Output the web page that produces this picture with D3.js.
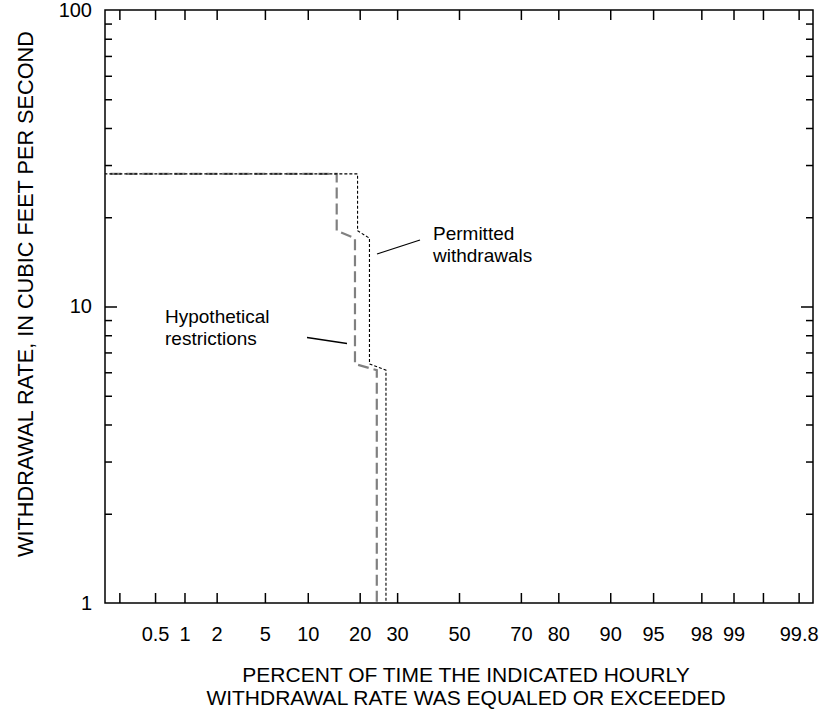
<!DOCTYPE html>
<html>
<head>
<meta charset="utf-8">
<script src="https://cdn.jsdelivr.net/npm/d3@7"></script>
<style>
  html, body { margin: 0; padding: 0; background: #fff; }
  svg { display: block; font-family: "Liberation Sans", Arial, Helvetica, sans-serif; }
</style>
</head>
<body>
<svg id="chart" width="830" height="712"></svg>
<script>
// ---------- data ----------
const xTickValues = [0.2, 0.5, 1, 2, 5, 10, 20, 30, 50, 70, 80, 90, 95, 98, 99, 99.5, 99.8];
const xTickLabels = ["", "0.5", "1", "2", "5", "10", "20", "30", "50", "70", "80", "90", "95", "98", "99", "", "99.8"];
const yTickValues = [1, 2, 3, 4, 5, 6, 7, 8, 9, 10, 20, 30, 40, 50, 60, 70, 80, 90, 100];
const yTickLabels = ["1", "", "", "", "", "", "", "", "", "10", "", "", "", "", "", "", "", "", "100"];

// percent of time exceeded, withdrawal rate (cfs)
const permittedPct   = [0.1, 19.5, 19.5, 22.4, 22.4, 26.8, 26.8];
const permittedRate  = [28,  28,   18,   17,   6.4,  6.1,  1];
const hypotheticalPct  = [0.1, 15.0, 15.0, 18.9, 18.9, 24.3, 24.3];
const hypotheticalRate = [28,  28,   18,   17,   6.4,  6.1,  1];

// ---------- layout ----------
const L = 105, R = 813, T = 10, B = 603;
const svg = d3.select("#chart");

// inverse standard normal CDF (Acklam)
function probit(p) {
  const a = [-3.969683028665376e+01, 2.209460984245205e+02, -2.759285104469687e+02, 1.383577518672690e+02, -3.066479806614716e+01, 2.506628277459239e+00];
  const b = [-5.447609879822406e+01, 1.615858368580409e+02, -1.556989798598866e+02, 6.680131188771972e+01, -1.328068155288572e+01];
  const c = [-7.784894002430293e-03, -3.223964580411365e-01, -2.400758277161838e+00, -2.549732539343734e+00, 4.374664141464968e+00, 2.938163982698783e+00];
  const d = [7.784695709041462e-03, 3.224671290700398e-01, 2.445134137142996e+00, 3.754408661907416e+00];
  const pl = 0.02425, ph = 1 - pl;
  let q, r;
  if (p < pl) {
    q = Math.sqrt(-2 * Math.log(p));
    return (((((c[0]*q+c[1])*q+c[2])*q+c[3])*q+c[4])*q+c[5]) / ((((d[0]*q+d[1])*q+d[2])*q+d[3])*q+1);
  } else if (p <= ph) {
    q = p - 0.5; r = q * q;
    return (((((a[0]*r+a[1])*r+a[2])*r+a[3])*r+a[4])*r+a[5])*q / (((((b[0]*r+b[1])*r+b[2])*r+b[3])*r+b[4])*r+1);
  } else {
    q = Math.sqrt(-2 * Math.log(1 - p));
    return -(((((c[0]*q+c[1])*q+c[2])*q+c[3])*q+c[4])*q+c[5]) / ((((d[0]*q+d[1])*q+d[2])*q+d[3])*q+1);
  }
}

// probability scale built on a d3 linear scale of z
function probScale(zs) {
  const s = p => zs(probit(p / 100));
  s.range = () => zs.range();
  s.domain = () => zs.domain();
  s.copy = () => probScale(zs.copy());
  return s;
}
const xz = d3.scaleLinear().domain([-3, 3]).range([L, R]);
const x = probScale(xz);
const y = d3.scaleLog().domain([1, 100]).range([B, T]);

// clip
svg.append("defs").append("clipPath").attr("id", "plotclip")
  .append("rect").attr("x", L).attr("y", T).attr("width", R - L).attr("height", B - T);

// ---------- axes ----------
const fmtX = d => xTickLabels[xTickValues.indexOf(d)];
const fmtY = d => yTickLabels[yTickValues.indexOf(d)];

const gxb = svg.append("g").attr("transform", `translate(0,${B})`)
  .call(d3.axisBottom(x).tickValues(xTickValues).tickFormat(fmtX).tickSizeInner(-10).tickSizeOuter(0).tickPadding(24));
const gxt = svg.append("g").attr("transform", `translate(0,${T})`)
  .call(d3.axisTop(x).tickValues(xTickValues).tickFormat("").tickSizeInner(-10).tickSizeOuter(0));
const gyl = svg.append("g").attr("transform", `translate(${L},0)`)
  .call(d3.axisLeft(y).tickValues(yTickValues).tickFormat(fmtY).tickSizeInner(-7).tickSizeOuter(0).tickPadding(13));
const gyr = svg.append("g").attr("transform", `translate(${R},0)`)
  .call(d3.axisRight(y).tickValues(yTickValues).tickFormat("").tickSizeInner(-7).tickSizeOuter(0));

[gxb, gxt, gyl, gyr].forEach(g => {
  g.select(".domain").remove();
  g.selectAll(".tick line").attr("stroke", "#000").attr("stroke-width", 1.5);
  g.selectAll(".tick text").attr("fill", "#000").attr("font-size", 20)
    .attr("font-family", "Liberation Sans, Arial, Helvetica, sans-serif");
});
// major y ticks longer
gyl.selectAll(".tick").filter(d => d === 10).select("line").attr("x2", 12);
gyr.selectAll(".tick").filter(d => d === 10).select("line").attr("x2", -12);
gyl.selectAll(".tick").filter(d => d === 1 || d === 100).select("line").remove();
gyr.selectAll(".tick").filter(d => d === 1 || d === 100).select("line").remove();

// frame
svg.append("rect").attr("x", L).attr("y", T).attr("width", R - L).attr("height", B - T)
  .attr("fill", "none").attr("stroke", "#000").attr("stroke-width", 1.5);

// ---------- lines ----------
const line = d3.line().x(d => x(d[0])).y(d => y(d[1]));
const plot = svg.append("g").attr("clip-path", "url(#plotclip)");

plot.append("path")
  .datum(hypotheticalPct.map((p, i) => [p, hypotheticalRate[i]]))
  .attr("d", line).attr("fill", "none")
  .attr("stroke", "#808080").attr("stroke-width", 2.2).attr("stroke-dasharray", "11,5");

plot.append("path")
  .datum(permittedPct.map((p, i) => [p, permittedRate[i]]))
  .attr("d", line).attr("fill", "none")
  .attr("stroke", "#000").attr("stroke-width", 1.1).attr("stroke-dasharray", "3,2");

// ---------- annotations ----------
const ann = svg.append("g").attr("font-size", 19).attr("fill", "#000");
ann.append("text").attr("x", 433).attr("y", 240).text("Permitted");
ann.append("text").attr("x", 433).attr("y", 262).text("withdrawals");
ann.append("line").attr("x1", 377).attr("y1", 254).attr("x2", 420).attr("y2", 240)
  .attr("stroke", "#000").attr("stroke-width", 1.3);

ann.append("text").attr("x", 165).attr("y", 323).text("Hypothetical");
ann.append("text").attr("x", 165).attr("y", 345).text("restrictions");
ann.append("line").attr("x1", 307).attr("y1", 337.5).attr("x2", 347).attr("y2", 343.5)
  .attr("stroke", "#000").attr("stroke-width", 1.3);

// ---------- titles ----------
svg.append("text").attr("x", 466).attr("y", 682).attr("text-anchor", "middle")
  .attr("font-size", 21).text("PERCENT OF TIME THE INDICATED HOURLY");
svg.append("text").attr("x", 466).attr("y", 705).attr("text-anchor", "middle")
  .attr("font-size", 21).text("WITHDRAWAL RATE WAS EQUALED OR EXCEEDED");
svg.append("text").attr("transform", `translate(33,${(28 + 560) / 2}) rotate(-90)`)
  .attr("text-anchor", "middle").attr("font-size", 21.7)
  .text("WITHDRAWAL RATE, IN CUBIC FEET PER SECOND");
</script>
</body>
</html>
